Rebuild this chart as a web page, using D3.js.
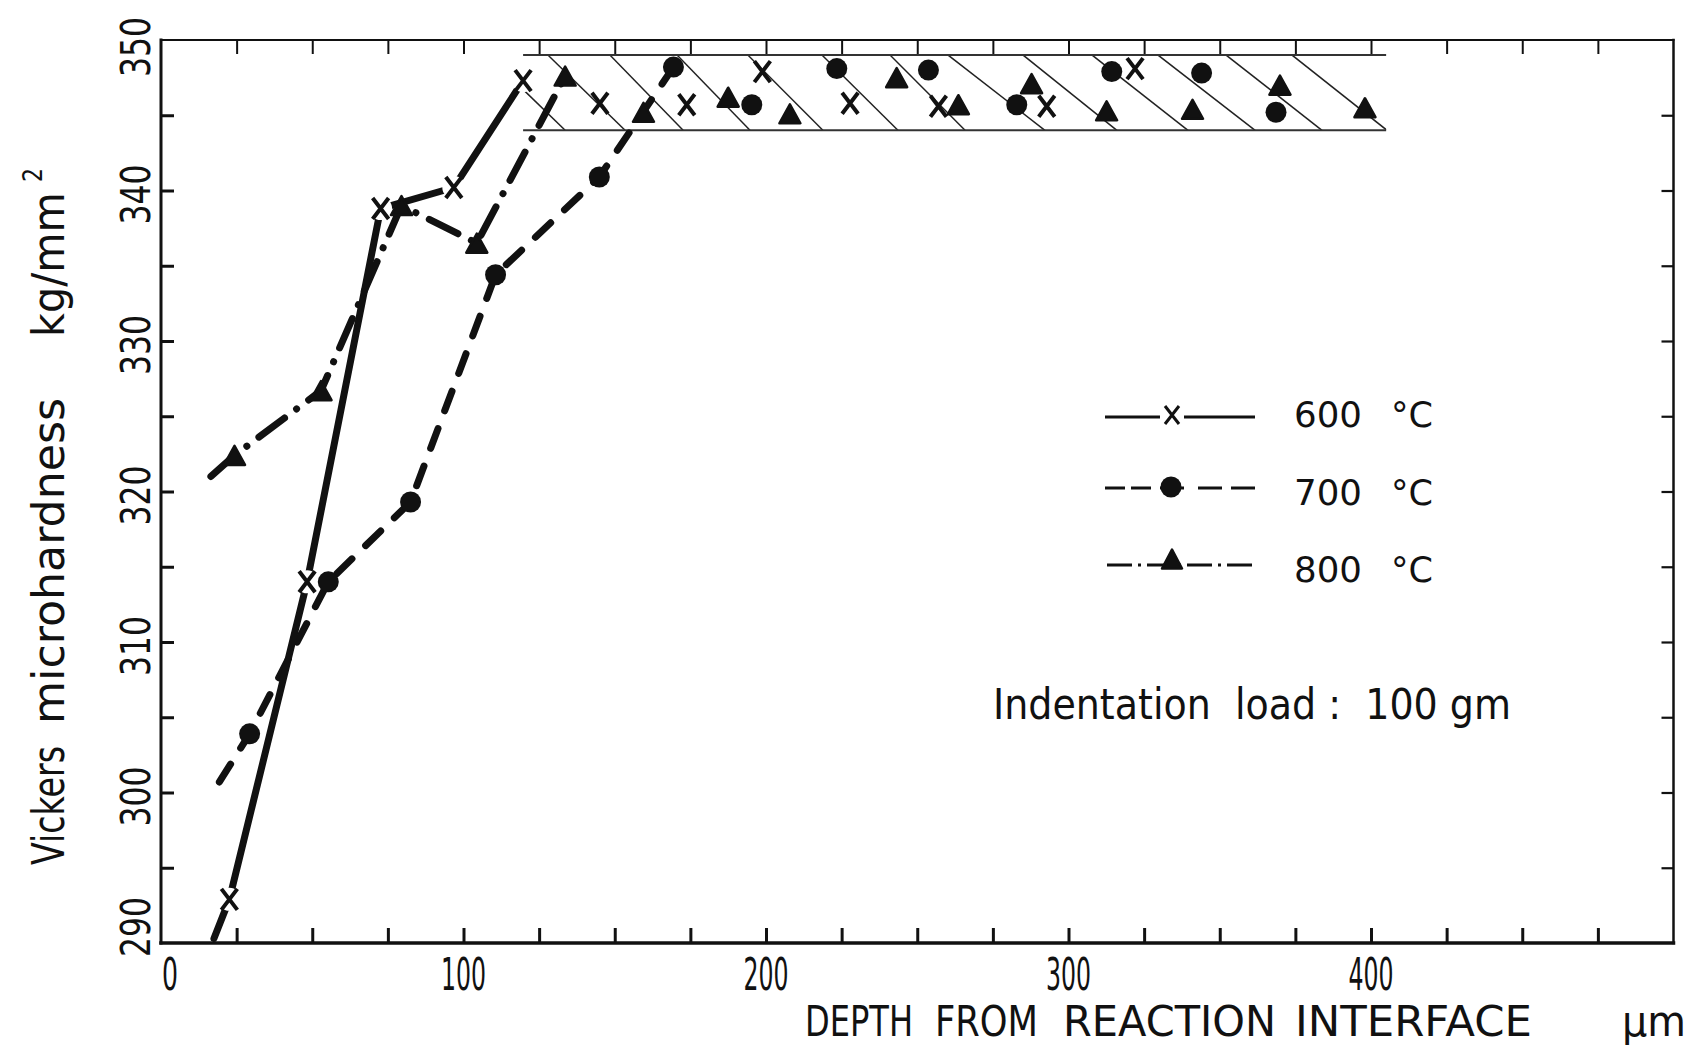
<!DOCTYPE html>
<html><head><meta charset="utf-8">
<script src="https://cdn.jsdelivr.net/npm/d3@7"></script>
<style>
html,body{margin:0;padding:0;background:#fff;}
svg{display:block;}
text{font-family:"DejaVu Sans",sans-serif;fill:#111;}
</style>
</head><body>
<svg id="chart" width="1695" height="1050"></svg>
<script>
// ---------------- DATA ----------------
const seriesLabels = ["600", "700", "800"];          // °C
const lineStartDepth = [17.5, 19.3, 16.5];            // where each curve begins (µm)
const lineStartHv = [290.3, 300.7, 321.0];
const depth600 = [22.6, 48.3, 72.6, 96.8, 119.7];
const hv600 = [292.9, 314.0, 338.8, 340.2, 347.3];
const depth700 = [29.3, 55.3, 82.5, 110.6, 144.9, 169.4];
const hv700 = [303.9, 314.0, 319.3, 334.4, 340.9, 348.2];
const depth800 = [24.3, 52.9, 79.5, 104.4, 133.6];
const hv800 = [322.4, 326.7, 339.0, 336.5, 347.6];
// bulk (hatched band) scatter points
const bandDepth600 = [145.1, 173.8, 198.8, 227.8, 257.0, 292.8, 322.0];
const bandHv600 = [345.8, 345.7, 347.9, 345.8, 345.6, 345.6, 348.1];
const bandDepth700 = [195.3, 223.4, 253.7, 282.9, 314.3, 344.0, 368.6];
const bandHv700 = [345.7, 348.1, 348.0, 345.7, 347.9, 347.8, 345.2];
const bandDepth800 = [159.5, 187.5, 207.9, 243.2, 263.6, 287.8, 312.6, 341.0, 369.9, 398.0];
const bandHv800 = [345.2, 346.2, 345.1, 347.5, 345.7, 347.1, 345.3, 345.4, 347.0, 345.5];
const bandDepthRange = [119.7, 405.0];
const bandHvRange = [344.0, 349.0];
const hatchTop = [108.0, 127.9, 148.4, 170.6, 194.0, 218.5, 241.0, 260.2, 285.0, 307.8, 329.6, 352.1, 373.9];
const hatchBottom = [133.6, 153.4, 172.6, 194.7, 218.8, 243.6, 265.8, 292.2, 316.0, 339.5, 361.7, 383.8, 405.3];
// axes
const xTickLabels = [0, 100, 200, 300, 400];
const yTickLabels = [290, 300, 310, 320, 330, 340, 350];
const xMinorTicks = d3.range(25, 500, 25);
const yMinorTicks = d3.range(295, 350, 5);

// ---------------- SCALES ----------------
const svg = d3.select("#chart");
const x = d3.scaleLinear().domain([0, 500]).range([161, 1673.5]);
const y = d3.scaleLinear().domain([290, 350]).range([943, 40]);
const INK = "#111";

// ---------------- FRAME & TICKS ----------------
const axG = svg.append("g");
function styleAxis(g, w) {
  g.select(".domain").remove();
  g.selectAll(".tick line").attr("stroke", INK).attr("stroke-width", w);
  g.selectAll(".tick text").remove();
}
axG.append("g").attr("transform", `translate(0,${y(290)})`)
  .call(d3.axisBottom(x).tickValues(xMinorTicks).tickSize(-15)).call(g => styleAxis(g, 3));
axG.append("g").attr("transform", `translate(0,${y(350)})`)
  .call(d3.axisTop(x).tickValues(xMinorTicks).tickSize(-14)).call(g => styleAxis(g, 2));
axG.append("g").attr("transform", `translate(${x(0)},0)`)
  .call(d3.axisLeft(y).tickValues(yMinorTicks).tickSize(-13)).call(g => styleAxis(g, 3));
axG.append("g").attr("transform", `translate(${x(500)},0)`)
  .call(d3.axisRight(y).tickValues(yMinorTicks).tickSize(-12)).call(g => styleAxis(g, 2.2));

const frame = svg.append("g").attr("stroke", INK).attr("stroke-linecap", "square");
frame.append("line").attr("x1", x(0)).attr("x2", x(0)).attr("y1", y(350)).attr("y2", y(290)).attr("stroke-width", 3);
frame.append("line").attr("x1", x(0)).attr("x2", x(500)).attr("y1", y(290)).attr("y2", y(290)).attr("stroke-width", 3.5);
frame.append("line").attr("x1", x(0)).attr("x2", x(500)).attr("y1", y(350)).attr("y2", y(350)).attr("stroke-width", 2);
frame.append("line").attr("x1", x(500)).attr("x2", x(500)).attr("y1", y(350)).attr("y2", y(290)).attr("stroke-width", 2.5);

// tick labels
svg.append("g").selectAll("text").data(xTickLabels).join("text")
  .attr("x", d => x(d) + (d === 0 ? 9 : 0)).attr("y", 990)
  .attr("text-anchor", "middle").attr("font-size", 44)
  .attr("textLength", d => d === 0 ? 16 : 45).attr("lengthAdjust", "spacingAndGlyphs")
  .text(d => d);
svg.append("g").selectAll("text").data(yTickLabels).join("text")
  .attr("transform", d => `translate(150,${y(d) + (d === 290 ? -16 : (d === 350 ? 7 : 4))}) rotate(-90)`)
  .attr("text-anchor", "middle").attr("font-size", 41)
  .attr("textLength", 60).attr("lengthAdjust", "spacingAndGlyphs")
  .text(d => d);

// axis titles
const xTitleWords = [["DEPTH", 805, 913], ["FROM", 935, 1038], ["REACTION", 1063, 1276], ["INTERFACE", 1295, 1532], ["μm", 1622, 1686]];
svg.append("g").selectAll("text").data(xTitleWords).join("text")
  .attr("x", d => d[1]).attr("y", 1036).attr("font-size", 42)
  .attr("textLength", d => d[2] - d[1]).attr("lengthAdjust", "spacingAndGlyphs")
  .text(d => d[0]);
const yTitleWords = [["Vickers", 865, 746], ["microhardness", 724, 398], ["kg/mm", 337, 192]];
svg.append("g").selectAll("text").data(yTitleWords).join("text")
  .attr("transform", d => `translate(64,${d[1]}) rotate(-90)`)
  .attr("font-size", 44)
  .attr("textLength", d => d[1] - d[2]).attr("lengthAdjust", "spacingAndGlyphs")
  .text(d => d[0]);
svg.append("text").attr("transform", "translate(42,182) rotate(-90)")
  .attr("font-size", 26).attr("textLength", 14).attr("lengthAdjust", "spacingAndGlyphs").text("2");

// ---------------- HATCHED BAND ----------------
const defs = svg.append("defs");
defs.append("clipPath").attr("id", "bandClip").append("rect")
  .attr("x", x(bandDepthRange[0])).attr("y", y(bandHvRange[1]))
  .attr("width", x(bandDepthRange[1]) - x(bandDepthRange[0]))
  .attr("height", y(bandHvRange[0]) - y(bandHvRange[1]));
const bandG = svg.append("g");
bandG.append("g").attr("clip-path", "url(#bandClip)")
  .selectAll("line").data(hatchTop.map((t, i) => [t, hatchBottom[i]])).join("line")
  .attr("x1", d => x(d[0])).attr("y1", y(bandHvRange[1]))
  .attr("x2", d => x(d[1])).attr("y2", y(bandHvRange[0]))
  .attr("stroke", "#222").attr("stroke-width", 1.5);
bandG.selectAll(".edge").data(bandHvRange).join("line").attr("class", "edge")
  .attr("x1", x(bandDepthRange[0])).attr("x2", x(bandDepthRange[1]))
  .attr("y1", d => y(d)).attr("y2", d => y(d))
  .attr("stroke", "#333").attr("stroke-width", 2);

// ---------------- CURVES ----------------
const zip = (a, b) => a.map((v, i) => [v, b[i]]);
const pts600 = [[lineStartDepth[0], lineStartHv[0]], ...zip(depth600, hv600)];
const pts700 = [[lineStartDepth[1], lineStartHv[1]], ...zip(depth700, hv700)];
const pts800 = [[lineStartDepth[2], lineStartHv[2]], ...zip(depth800, hv800)];
const line = d3.line().x(d => x(d[0])).y(d => y(d[1]));
const curves = svg.append("g").attr("fill", "none").attr("stroke", INK)
  .attr("stroke-linejoin", "round").attr("stroke-linecap", "round");
curves.append("path").attr("d", line(pts700)).attr("stroke-width", 7).attr("stroke-dasharray", "21,19");
curves.append("path").attr("d", line(pts800)).attr("stroke-width", 7).attr("stroke-dasharray", "32,15,0.1,15");
curves.append("path").attr("d", line(pts600)).attr("stroke-width", 7);
// gaps around the crosses on the 600 °C curve
svg.append("g").selectAll("circle").data(zip(depth600, hv600)).join("circle")
  .attr("cx", d => x(d[0])).attr("cy", d => y(d[1])).attr("r", 11.5).attr("fill", "#fff");

// ---------------- MARKERS ----------------
function cross(g, cx, cy, hw, hh, sw) {
  g.append("path").attr("d", `M${cx - hw},${cy - hh}L${cx + hw},${cy + hh}M${cx + hw},${cy - hh}L${cx - hw},${cy + hh}`)
    .attr("stroke", INK).attr("stroke-width", sw).attr("fill", "none");
}
function tri(g, cx, cy, w, h) {
  g.append("path").attr("d", `M${cx},${cy - h / 2}L${cx + w / 2},${cy + h / 2}L${cx - w / 2},${cy + h / 2}Z`)
    .attr("fill", INK).attr("stroke", INK).attr("stroke-width", 2.5).attr("stroke-linejoin", "round");
}
const mk = svg.append("g");
[...zip(depth600, hv600), ...zip(bandDepth600, bandHv600)].forEach(d => cross(mk, x(d[0]), y(d[1]), 8, 10.5, 4));
[...zip(depth700, hv700), ...zip(bandDepth700, bandHv700)].forEach(d =>
  mk.append("circle").attr("cx", x(d[0])).attr("cy", y(d[1])).attr("r", 10.5).attr("fill", INK));
[...zip(depth800, hv800), ...zip(bandDepth800, bandHv800)].forEach(d => tri(mk, x(d[0]), y(d[1]), 21, 19));

// ---------------- LEGEND ----------------
const legY = [417, 488, 565];
const lg = svg.append("g").attr("stroke", INK).attr("stroke-width", 3).attr("fill", "none");
lg.append("line").attr("x1", 1105).attr("x2", 1160).attr("y1", legY[0]).attr("y2", legY[0]);
lg.append("line").attr("x1", 1184).attr("x2", 1255).attr("y1", legY[0]).attr("y2", legY[0]);
cross(svg, 1172, legY[0] - 2, 7, 9, 3);
lg.append("line").attr("x1", 1105).attr("x2", 1151).attr("y1", legY[1]).attr("y2", legY[1]).attr("stroke-dasharray", "20,6");
lg.append("line").attr("x1", 1160).attr("x2", 1184).attr("y1", legY[1]).attr("y2", legY[1]);
lg.append("line").attr("x1", 1198).attr("x2", 1255).attr("y1", legY[1]).attr("y2", legY[1]).attr("stroke-dasharray", "24,9");
svg.append("circle").attr("cx", 1171).attr("cy", legY[1] - 1).attr("r", 10.5).attr("fill", INK);
lg.append("line").attr("x1", 1107).attr("x2", 1255).attr("y1", legY[2]).attr("y2", legY[2]).attr("stroke-dasharray", "25,6,3,6");
tri(svg, 1172, legY[2] - 6, 20, 19);
const legText = svg.append("g");
legText.selectAll(".num").data(seriesLabels).join("text").attr("class", "num")
  .attr("x", 1294).attr("y", (d, i) => legY[i] + [10, 17, 17][i]).attr("font-size", 35)
  .attr("textLength", 68).attr("lengthAdjust", "spacingAndGlyphs").text(d => d);
legText.selectAll(".unit").data(seriesLabels).join("text").attr("class", "unit")
  .attr("x", 1391).attr("y", (d, i) => legY[i] + [10, 17, 17][i]).attr("font-size", 35)
  .attr("textLength", 42).attr("lengthAdjust", "spacingAndGlyphs").text("°C");

// ---------------- NOTE ----------------
svg.append("text").attr("x", 993).attr("y", 719).attr("font-size", 43)
  .style("white-space", "pre")
  .attr("textLength", 518).attr("lengthAdjust", "spacingAndGlyphs")
  .text("Indentation  load :  100 gm");
</script>
</body></html>
